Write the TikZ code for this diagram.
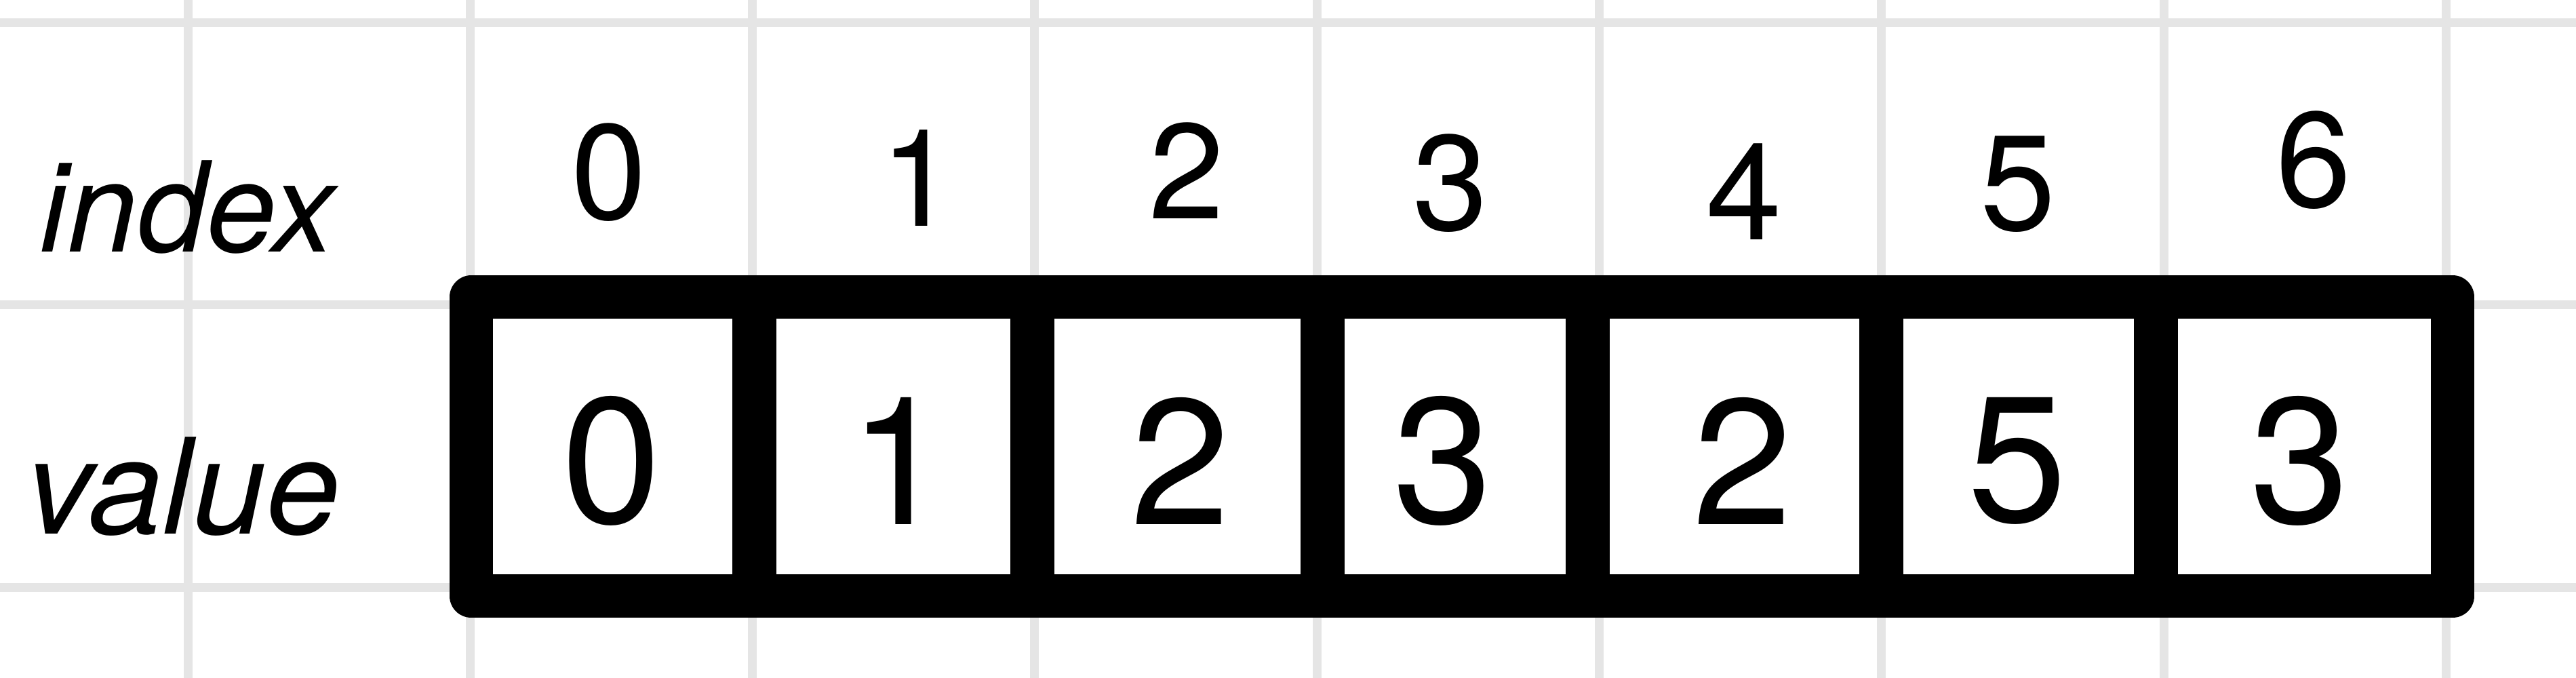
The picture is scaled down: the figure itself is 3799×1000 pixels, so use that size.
\documentclass[tikz,border=0pt]{standalone}
\usepackage{fontspec}
\setmainfont{TeX Gyre Heros}
\begin{document}
\begin{tikzpicture}[x=0.1pt,y=-0.1pt,
  gridline/.style={draw=black!10,line width=1.3pt},
  arrbox/.style={draw=black,line width=6.4pt,line join=round,line cap=round},
  divider/.style={draw=black,line width=6.5pt,line cap=butt},
  idxnum/.style={font=\fontsize{20}{20}\selectfont,inner sep=0pt,anchor=center},
  valnum/.style={font=\fontsize{26.4}{26.4}\selectfont,inner sep=0pt,anchor=center},
  rowlab/.style={font=\itshape\fontsize{18.5}{18.5}\selectfont,inner sep=0pt,anchor=base}]
\useasboundingbox (0,0) rectangle (3799,1000);
\fill[white] (0,0) rectangle (3799,1000);
% grid
\foreach \i in {0,...,8} \draw[gridline] ({277+416.3*\i},0) -- ({277+416.3*\i},1000);
\foreach \j in {0,1,2} \draw[gridline] (0,{33.5+416.3*\j}) -- (3799,{33.5+416.3*\j});
% array box
\draw[arrbox] (695,438.5) rectangle (3617,879);
\foreach \x in {1112,1522,1950,2341,2774,3179} \draw[divider] (\x,438.5) -- (\x,879);
% labels
\node[rowlab] (lindex) at (276,372) {index};
\node[rowlab,font=\itshape\fontsize{19.6}{19.6}\selectfont] (lvalue) at (270,788) {value};
% index digits
\node[idxnum] (i0) at (898,254) {0};
\node[idxnum] (i1) at (1354,263) {1};
\node[idxnum] (i2) at (1750,252) {2};
\node[idxnum] (i3) at (2139,270) {3};
\node[idxnum] (i4) at (2572,283) {4};
\node[idxnum] (i5) at (2976,272) {5};
\node[idxnum] (i6) at (3412,236) {6};
% values
\node[valnum] (v0) at (902,680) {0};
\node[valnum] (v1) at (1326,680) {1};
\node[valnum] (v2) at (1741,680) {2};
\node[valnum] (v3) at (2128,680) {3};
\node[valnum] (v4) at (2570,680) {2};
\node[valnum] (v5) at (2975,680) {5};
\node[valnum] (v6) at (3392,680) {3};
\end{tikzpicture}
\end{document}
